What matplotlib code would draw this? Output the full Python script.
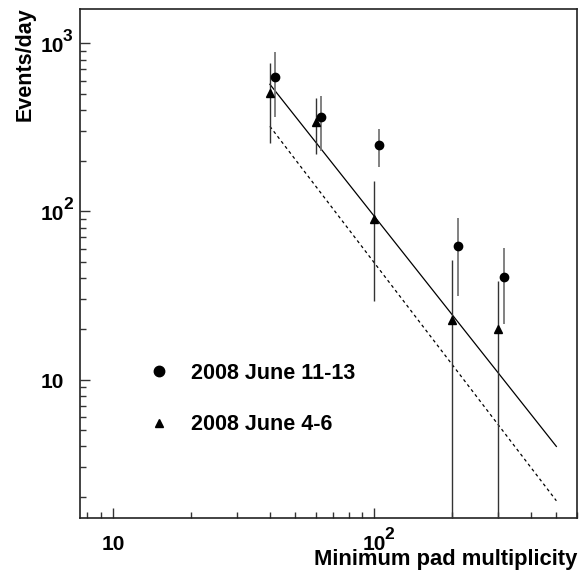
import matplotlib
matplotlib.use('Agg')
import matplotlib.pyplot as plt
import matplotlib.transforms as mtransforms
from matplotlib.lines import Line2D
from matplotlib.ticker import LogLocator, NullFormatter
import numpy as np

plt.rcParams['font.family'] = ['Liberation Sans', 'DejaVu Sans']
plt.rcParams['font.weight'] = 'bold'

# 2008 June 11-13 (circles)
circ_x = [42, 63, 105, 210, 315]
circ_y = [630, 365, 247, 62, 41]
circ_hi = [885, 486, 310, 92, 61]
circ_lo = [364, 229, 183, 31.5, 21.5]

# 2008 June 4-6 (triangles)
tri_x = [40, 60, 100, 200, 300]
tri_y = [505, 341, 90, 22.7, 20.1]
tri_hi = [768, 470, 152, 51.5, 38.8]
tri_lo = [254, 221, 29.4, 0.01, 0.01]

# power-law fit lines (end points)
fit_x = [40, 500]
fit_solid = [571, 4.0]
fit_dashed = [321, 1.9]

x_ticks = [10, 100]
x_exps = ['', '2']
y_ticks = [10, 100, 1000]
y_exps = ['', '2', '3']

fig = plt.figure(figsize=(5.85, 5.85), dpi=100)
ax = fig.add_axes([0.1368, 0.1145, 0.8496, 0.870])
ax.set_xscale('log')
ax.set_yscale('log')

cy = np.array(circ_y)
ax.errorbar(circ_x, circ_y,
            yerr=[cy - np.array(circ_lo), np.array(circ_hi) - cy],
            fmt='o', color='black', ms=6, ecolor='#777777', elinewidth=1.3,
            capsize=0, zorder=3)
ty = np.array(tri_y)
ax.errorbar(tri_x, tri_y,
            yerr=[ty - np.array(tri_lo), np.array(tri_hi) - ty],
            fmt='^', color='black', ms=6, ecolor='#333333', elinewidth=1.0,
            capsize=0, zorder=3)

ax.plot(fit_x, fit_solid, color='black', lw=0.9)
ax.plot(fit_x, fit_dashed, color='black', lw=0.9, ls=(0, (2.5, 2.5)))

ax.set_xlim(7.5, 600)
ax.set_ylim(1.5, 1600)

ax.set_xticks(x_ticks)
ax.set_yticks(y_ticks)
ax.xaxis.set_minor_locator(LogLocator(base=10, subs=np.arange(2, 10)))
ax.yaxis.set_minor_locator(LogLocator(base=10, subs=np.arange(2, 10)))
for axis in (ax.xaxis, ax.yaxis):
    axis.set_major_formatter(NullFormatter())
    axis.set_minor_formatter(NullFormatter())
ax.tick_params(which='both', direction='in', top=False, right=False,
               width=1.0, color='#333333')
ax.tick_params(which='major', length=7)
ax.tick_params(which='minor', length=4)
for s in ax.spines.values():
    s.set_linewidth(1.2)
    s.set_color('#222222')


def power_label(x, y, base, exp, dx, dy):
    # "10" with a big raised exponent, ROOT style
    t = mtransforms.offset_copy(base, fig=fig, x=dx, y=dy, units='dots')
    ax.text(x, y, '10', transform=t, ha='left', va='baseline', fontsize=15)
    if exp:
        te = mtransforms.offset_copy(base, fig=fig, x=dx + 22, y=dy + 11,
                                     units='dots')
        ax.text(x, y, exp, transform=te, ha='left', va='baseline', fontsize=12.5)


xb = mtransforms.blended_transform_factory(ax.transData, ax.transAxes)
for v, e in zip(x_ticks, x_exps):
    power_label(v, -0.0629, xb, e, -11.5, 0)
yb = mtransforms.blended_transform_factory(ax.transAxes, ax.transData)
for v, e in zip(y_ticks, y_exps):
    power_label(-0.0785, v, yb, e, 0, -8.5)

ax.set_xlabel('Minimum pad multiplicity', fontsize=15.8, fontweight='bold', loc='right')
ax.xaxis.set_label_coords(1.0, -0.060)
ax.set_ylabel('Events/day', fontsize=15.5, fontweight='bold', loc='top')
ax.yaxis.set_label_coords(-0.09, 1.003)

handles = [
    Line2D([], [], marker='o', ls='none', color='black', ms=7.5),
    Line2D([], [], marker='^', ls='none', color='black', ms=6),
]
ax.legend(handles, ['2008 June 11-13', '2008 June 4-6'], frameon=False,
          loc='upper left', bbox_to_anchor=(148 / 585, 1 - 363 / 585),
          bbox_transform=fig.transFigure, borderpad=0, borderaxespad=0,
          handlelength=1.0, handletextpad=1.0, labelspacing=1.4,
          prop={'size': 15.5, 'weight': 'bold'})

fig.savefig('out.png', dpi=100)
